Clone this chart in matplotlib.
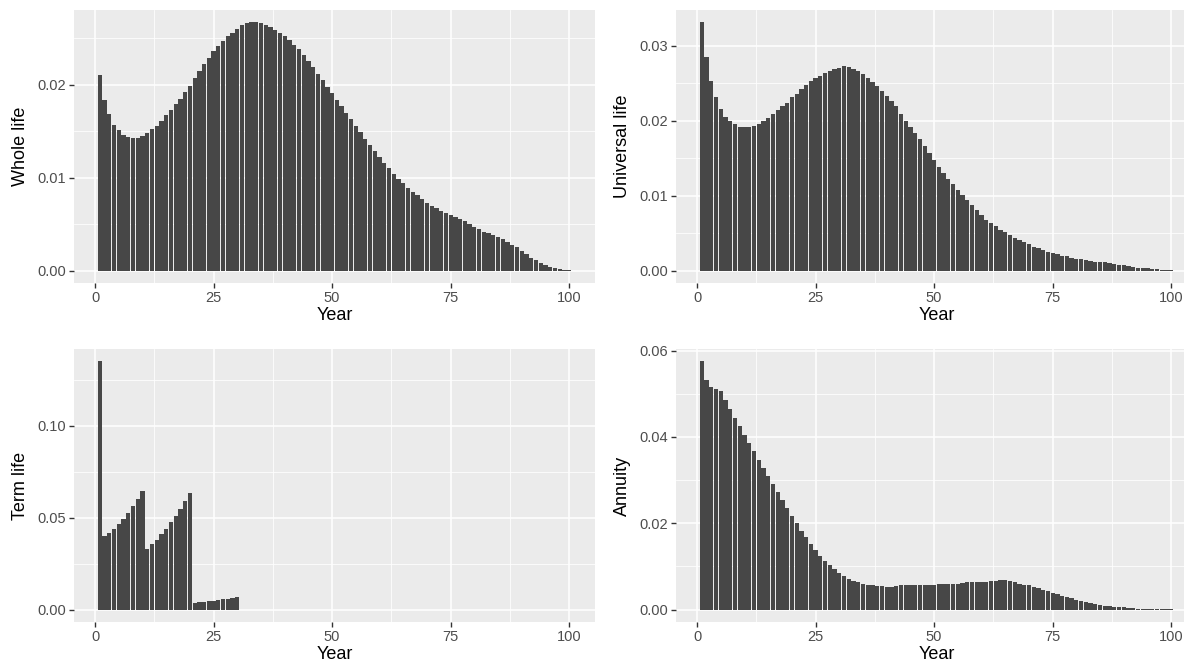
import numpy as np
import matplotlib
matplotlib.use("Agg")
import matplotlib.pyplot as plt
from matplotlib.ticker import MultipleLocator, FormatStrFormatter

plt.rcParams['font.family'] = ['Liberation Sans', 'DejaVu Sans']

years = np.arange(1, 101)

whole_life = [
    0.0210, 0.0184, 0.0168, 0.0157, 0.0151, 0.0146, 0.0144, 0.0143, 0.0143, 0.0145,
    0.0148, 0.0152, 0.0156, 0.0161, 0.0167, 0.0173, 0.0179, 0.0185, 0.0192, 0.0199,
    0.0207, 0.0215, 0.0222, 0.0229, 0.0236, 0.0242, 0.0247, 0.0252, 0.0256, 0.0260,
    0.0264, 0.0266, 0.0267, 0.0267, 0.0266, 0.0264, 0.0262, 0.0259, 0.0256, 0.0252,
    0.0248, 0.0243, 0.0238, 0.0232, 0.0226, 0.0219, 0.0212, 0.0205, 0.0198, 0.0191,
    0.0184, 0.0177, 0.0170, 0.0163, 0.0156, 0.0149, 0.0142, 0.0135, 0.0129, 0.0122,
    0.0116, 0.0110, 0.0104, 0.0099, 0.0094, 0.0089, 0.0085, 0.0081, 0.0077, 0.0073,
    0.0070, 0.0067, 0.0064, 0.0062, 0.0060, 0.0058, 0.0055, 0.0053, 0.0050, 0.0047,
    0.0045, 0.0042, 0.0040, 0.0038, 0.0036, 0.0034, 0.0031, 0.0028, 0.0025, 0.0021,
    0.0018, 0.0014, 0.0011, 0.0008, 0.0006, 0.0004, 0.0003, 0.0002, 0.0001, 0.0001,
]

universal_life = [
    0.0331, 0.0285, 0.0253, 0.0231, 0.0216, 0.0205, 0.0199, 0.0195, 0.0192, 0.0191,
    0.0192, 0.0193, 0.0196, 0.0200, 0.0204, 0.0209, 0.0214, 0.0219, 0.0224, 0.0231,
    0.0236, 0.0242, 0.0248, 0.0253, 0.0257, 0.0260, 0.0264, 0.0266, 0.0269, 0.0270,
    0.0273, 0.0271, 0.0269, 0.0266, 0.0262, 0.0257, 0.0252, 0.0246, 0.0240, 0.0233,
    0.0226, 0.0219, 0.0209, 0.0200, 0.0192, 0.0184, 0.0175, 0.0166, 0.0157, 0.0148,
    0.0138, 0.0130, 0.0122, 0.0115, 0.0108, 0.0101, 0.0094, 0.0088, 0.0081, 0.0074,
    0.0068, 0.0063, 0.0059, 0.0054, 0.0051, 0.0048, 0.0044, 0.0041, 0.0038, 0.0035,
    0.0032, 0.0030, 0.0028, 0.0025, 0.0024, 0.0022, 0.0020, 0.0019, 0.0017, 0.0016,
    0.0015, 0.0014, 0.0013, 0.0012, 0.0011, 0.0011, 0.0010, 0.0009, 0.0008, 0.0007,
    0.0006, 0.0005, 0.0004, 0.0004, 0.0003, 0.0002, 0.0002, 0.0001, 0.0001, 0.00005,
]

term_life = [
    0.1350, 0.0399, 0.0417, 0.0441, 0.0466, 0.0495, 0.0528, 0.0563, 0.0601, 0.0644,
    0.0329, 0.0356, 0.0381, 0.0410, 0.0441, 0.0475, 0.0510, 0.0548, 0.0592, 0.0635,
    0.0038, 0.0040, 0.0044, 0.0045, 0.0049, 0.0054, 0.0058, 0.0058, 0.0062, 0.0067,
] + [0.0] * 70

annuity = [
    0.0575, 0.0531, 0.0515, 0.0510, 0.0507, 0.0485, 0.0464, 0.0443, 0.0425, 0.0405,
    0.0386, 0.0368, 0.0347, 0.0329, 0.0310, 0.0290, 0.0272, 0.0253, 0.0235, 0.0216,
    0.0200, 0.0183, 0.0168, 0.0151, 0.0137, 0.0125, 0.0113, 0.0103, 0.0093, 0.0085,
    0.0078, 0.0072, 0.0067, 0.0063, 0.0060, 0.0058, 0.0056, 0.0055, 0.0054, 0.0053,
    0.0053, 0.0055, 0.0056, 0.0056, 0.0056, 0.0057, 0.0057, 0.0057, 0.0057, 0.0058,
    0.0059, 0.0059, 0.0059, 0.0060, 0.0060, 0.0061, 0.0063, 0.0063, 0.0063, 0.0063,
    0.0065, 0.0066, 0.0066, 0.0068, 0.0068, 0.0066, 0.0063, 0.0060, 0.0058, 0.0056,
    0.0053, 0.0049, 0.0046, 0.0042, 0.0039, 0.0036, 0.0032, 0.0029, 0.0026, 0.0023,
    0.0020, 0.0018, 0.0015, 0.0013, 0.0011, 0.0009, 0.0008, 0.0006, 0.0005, 0.0005,
    0.0004, 0.0003, 0.0002, 0.0002, 0.00015, 0.0001, 0.0001, 0.00005, 0.00005, 0.00003,
]

W, H = 1184, 667
fig = plt.figure(figsize=(W / 100, H / 100), dpi=100)

def px_axes(left, top, right, bottom):
    return fig.add_axes([left / W, 1 - bottom / H, (right - left) / W, (bottom - top) / H])

panels = [
    (px_axes(74, 10, 595, 283), whole_life, "Whole life", 0.01, 0.005),
    (px_axes(676, 10, 1197, 283), universal_life, "Universal life", 0.01, 0.005),
    (px_axes(74, 349, 595, 622), term_life, "Term life", 0.05, 0.025),
    (px_axes(676, 349, 1197, 622), annuity, "Annuity", 0.02, 0.01),
]

for ax, vals, label, ymaj, ymin in panels:
    ax.set_facecolor("#EBEBEB")
    ax.bar(years, vals, width=0.9, color="#474747", edgecolor="none", zorder=2)
    ymax = max(vals)
    ax.set_ylim(-0.05 * ymax, 1.05 * ymax)
    ax.set_xlim(0.55 - 0.05 * 99.9, 100.45 + 0.05 * 99.9)
    ax.xaxis.set_major_locator(MultipleLocator(25))
    ax.xaxis.set_minor_locator(MultipleLocator(12.5))
    ax.yaxis.set_major_locator(MultipleLocator(ymaj))
    ax.yaxis.set_minor_locator(MultipleLocator(ymin))
    ax.yaxis.set_major_formatter(FormatStrFormatter("%.2f"))
    ax.grid(which="major", color="white", linewidth=1.1, zorder=0)
    ax.grid(which="minor", color="white", linewidth=0.55, zorder=0)
    ax.set_axisbelow(True)
    for s in ax.spines.values():
        s.set_visible(False)
    ax.tick_params(which="major", length=3.5, width=1.0, color="#333333",
                   labelcolor="#4D4D4D", labelsize=10.5, pad=2.5)
    ax.tick_params(which="minor", length=0)
    ax.set_xlabel("Year", fontsize=13, color="black", labelpad=1)
    ax.set_ylabel(label, fontsize=13, color="black", labelpad=6)

fig.savefig("out.png", dpi=100)
